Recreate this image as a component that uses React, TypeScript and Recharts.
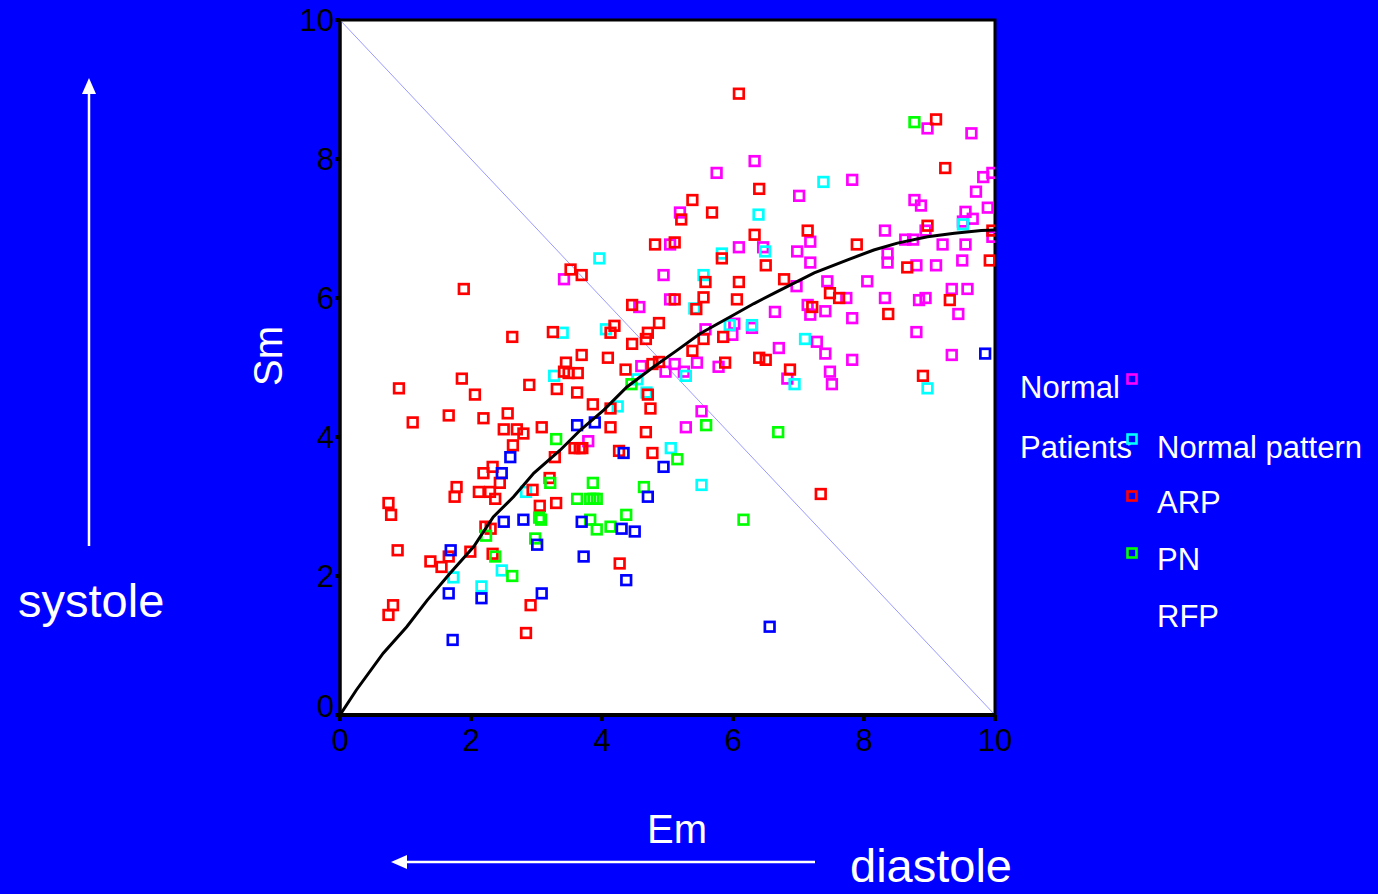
import React from "react";
import {
  ScatterChart,
  Scatter,
  XAxis,
  YAxis,
  ReferenceArea,
  ReferenceLine,
} from "recharts";

// [Em, Sm] pairs
const normal = [
  [3.42, 6.27], [5.75, 7.8], [6.33, 7.97], [5.19, 7.23], [5.04, 6.77], [6.09, 6.73],
  [6.46, 6.73], [4.94, 6.33], [5.04, 5.98], [4.57, 5.87], [6.64, 5.8], [5.58, 5.55],
  [6.02, 5.63], [6.29, 5.57], [5.99, 5.47], [6.7, 5.28], [4.6, 5.02], [5.11, 5.05],
  [4.97, 4.94], [5.25, 4.94], [5.45, 5.07], [5.78, 5.01], [8.97, 8.44], [9.64, 8.37],
  [9.96, 7.8], [9.82, 7.74], [7.82, 7.7], [9.71, 7.53], [7.01, 7.47], [8.77, 7.41],
  [8.87, 7.33], [9.89, 7.3], [9.55, 7.24], [9.66, 7.14], [9.51, 7.1], [8.94, 6.97],
  [8.32, 6.97], [9.96, 6.88], [8.63, 6.84], [8.75, 6.84], [7.18, 6.81], [9.2, 6.77],
  [9.55, 6.77], [6.98, 6.67], [8.36, 6.64], [7.18, 6.51], [8.36, 6.51], [8.8, 6.47],
  [9.1, 6.47], [9.5, 6.54], [6.97, 6.17], [7.44, 6.24], [8.05, 6.24], [9.34, 6.13],
  [9.58, 6.13], [7.73, 6.0], [8.32, 6.0], [8.84, 5.97], [8.94, 6.0], [7.14, 5.9],
  [7.18, 5.76], [7.41, 5.81], [7.82, 5.71], [9.44, 5.77], [8.8, 5.51], [7.28, 5.37],
  [7.41, 5.2], [7.82, 5.11], [9.34, 5.18], [6.83, 4.84], [7.48, 4.94], [7.51, 4.76],
  [5.52, 4.37], [5.28, 4.14], [3.79, 3.94],
];

const normalPattern = [
  [6.39, 7.2], [5.83, 6.64], [6.49, 6.67], [3.96, 6.57], [5.55, 6.33], [5.41, 5.85],
  [4.06, 5.55], [5.95, 5.61], [6.29, 5.61], [3.4, 5.5], [3.27, 4.88], [5.28, 4.88],
  [4.54, 4.83], [4.68, 4.64], [4.24, 4.44], [5.05, 3.84], [5.52, 3.31], [7.38, 7.67],
  [9.51, 7.06], [7.1, 5.41], [6.94, 4.76], [8.97, 4.7], [2.84, 3.21], [2.47, 2.08],
  [1.73, 1.98], [2.16, 1.85],
];

const arp = [
  [6.09, 8.94], [6.4, 7.57], [5.38, 7.41], [5.21, 7.13], [5.68, 7.23], [6.33, 6.91],
  [4.81, 6.77], [5.11, 6.8], [5.83, 6.57], [6.5, 6.47], [3.52, 6.41], [3.69, 6.33],
  [5.58, 6.23], [6.09, 6.23], [5.11, 5.98], [5.55, 6.01], [6.06, 5.98], [4.46, 5.9],
  [5.44, 5.84], [4.87, 5.64], [4.19, 5.6], [4.13, 5.5], [4.7, 5.5], [4.67, 5.41],
  [5.55, 5.41], [5.85, 5.44], [4.46, 5.34], [3.69, 5.18], [4.09, 5.14], [3.45, 5.07],
  [5.38, 5.24], [6.4, 5.14], [6.5, 5.11], [4.36, 4.97], [4.77, 5.05], [4.87, 5.08],
  [5.88, 5.07], [3.63, 4.92], [3.49, 4.92], [3.42, 4.94], [1.89, 6.13], [2.63, 5.44],
  [3.25, 5.51], [1.86, 4.84], [0.9, 4.7], [2.89, 4.75], [9.1, 8.57], [9.24, 7.87],
  [8.97, 7.04], [7.14, 6.97], [9.96, 6.97], [7.89, 6.77], [9.92, 6.54], [8.66, 6.44],
  [6.78, 6.27], [7.48, 6.07], [7.62, 6.0], [9.31, 5.97], [7.21, 5.87], [8.37, 5.77],
  [6.87, 4.97], [8.9, 4.88], [2.06, 4.61], [3.31, 4.69], [1.11, 4.21], [1.66, 4.31],
  [2.19, 4.27], [2.56, 4.34], [2.5, 4.11], [2.7, 4.11], [2.8, 4.05], [3.08, 4.14],
  [2.64, 3.88], [3.28, 3.71], [2.33, 3.57], [2.19, 3.48], [2.44, 3.34], [3.2, 3.41],
  [1.78, 3.28], [1.75, 3.14], [2.12, 3.21], [2.29, 3.21], [2.37, 3.11], [2.94, 3.24],
  [3.05, 3.01], [3.3, 3.05], [0.74, 3.05], [0.78, 2.88], [2.22, 2.71], [2.3, 2.68],
  [0.88, 2.37], [1.66, 2.28], [1.99, 2.35], [1.38, 2.21], [1.55, 2.13], [2.33, 2.32],
  [2.91, 1.58], [0.81, 1.58], [0.74, 1.44], [2.84, 1.18], [3.62, 4.64], [3.86, 4.47],
  [4.13, 4.41], [4.7, 4.61], [4.74, 4.41], [4.13, 4.14], [4.67, 4.07], [3.58, 3.84],
  [3.66, 3.84], [3.7, 3.84], [4.26, 3.8], [4.77, 3.77], [4.27, 2.18], [7.34, 3.18],
];

const pn = [
  [8.77, 8.53], [4.45, 4.76], [3.3, 3.97], [3.21, 3.34], [3.04, 2.84], [3.07, 2.81],
  [2.23, 2.58], [2.98, 2.54], [2.37, 2.28], [2.63, 2.0], [5.59, 4.17], [6.69, 4.07],
  [5.15, 3.68], [3.86, 3.34], [4.64, 3.28], [3.62, 3.11], [3.82, 3.11], [3.87, 3.11],
  [3.92, 3.11], [3.82, 2.81], [3.92, 2.67], [4.13, 2.71], [4.37, 2.88], [6.16, 2.81],
];

const rfp = [
  [9.85, 5.2], [2.6, 3.71], [2.47, 3.48], [2.5, 2.78], [2.8, 2.81], [3.01, 2.45],
  [1.69, 2.37], [1.66, 1.75], [2.16, 1.68], [3.08, 1.75], [1.72, 1.08], [3.62, 4.17],
  [3.89, 4.21], [4.33, 3.77], [4.94, 3.57], [4.7, 3.14], [3.69, 2.78], [4.3, 2.68],
  [4.5, 2.64], [3.72, 2.28], [4.37, 1.94], [6.56, 1.27],
];

// smoothed fit curve
const fitCurve = [
  [0, 0], [0.25, 0.36], [0.66, 0.89], [1.02, 1.27], [1.33, 1.65], [1.68, 2.04],
  [2.04, 2.42], [2.34, 2.85], [2.65, 3.14], [2.96, 3.48], [3.36, 3.81], [3.67, 4.1],
  [4.03, 4.39], [4.38, 4.72], [4.79, 5.01], [5.15, 5.25], [5.5, 5.49], [5.96, 5.73],
  [6.32, 5.92], [6.63, 6.07], [7.24, 6.36], [7.75, 6.55], [8.15, 6.69], [8.51, 6.79],
  [8.97, 6.88], [9.38, 6.93], [9.79, 6.97], [10, 6.98],
];

const ticks = [0, 2, 4, 6, 8, 10];

const BG = "#0000ff";
const FONT = "'Liberation Sans', Arial, sans-serif";

const toPts = (arr: number[][]) => arr.map(([x, y]) => ({ x, y }));

const square = (color: string) => (props: any) => {
  const { cx, cy } = props;
  if (cx == null || cy == null) return <g />;
  return (
    <rect
      x={cx - 4.8}
      y={cy - 4.8}
      width={9.6}
      height={9.6}
      fill="none"
      stroke={color}
      strokeWidth={2.7}
    />
  );
};

const YTick = (props: any) => {
  const { x, y, payload } = props;
  const shift = payload.value === 0 ? -9 : 0;
  return (
    <text
      x={x}
      y={y + shift}
      dy="0.36em"
      textAnchor="end"
      fontSize={31}
      fontFamily={FONT}
      fill="#000"
    >
      {payload.value}
    </text>
  );
};

const legendRows = [
  { label: "Normal pattern", color: "#00ffff", y: 439, ty: 458 },
  { label: "ARP", color: "#ff0000", y: 496, ty: 513 },
  { label: "PN", color: "#00ff00", y: 553, ty: 570 },
  { label: "RFP", color: "#0000ff", y: 610, ty: 627 },
];

export default function App() {
  return (
    <div
      style={{
        position: "absolute",
        left: 0,
        top: 0,
        width: 1378,
        height: 894,
        background: BG,
        overflow: "hidden",
        fontFamily: FONT,
      }}
    >
      <div style={{ position: "absolute", left: 0, top: 0 }}>
        <ScatterChart
          width={1378}
          height={894}
          margin={{ top: 20, right: 383, bottom: 139, left: 280 }}
        >
          <XAxis
            type="number"
            dataKey="x"
            domain={[0, 10]}
            ticks={ticks}
            allowDataOverflow
            axisLine={{ stroke: "#000", strokeWidth: 4 }}
            tickLine={{ stroke: "#000", strokeWidth: 4 }}
            tickSize={6}
            tickMargin={8}
            height={40}
            tick={{ fontSize: 31, fill: "#000", fontFamily: FONT }}
          />
          <YAxis
            type="number"
            dataKey="y"
            domain={[0, 10]}
            ticks={ticks}
            allowDataOverflow
            width={60}
            axisLine={{ stroke: "#000", strokeWidth: 3 }}
            tickLine={{ stroke: "#000", strokeWidth: 4 }}
            tickSize={5}
            tickMargin={1}
            tick={<YTick />}
          />
          <ReferenceArea
            x1={0}
            x2={10}
            y1={0}
            y2={10}
            fill="#ffffff"
            fillOpacity={1}
            stroke="#000"
            strokeWidth={3}
          />
          <ReferenceLine
            segment={[
              { x: 0, y: 10 },
              { x: 10, y: 0 },
            ]}
            stroke="#9a9aff"
            strokeWidth={1}
          />
          <Scatter data={toPts(normal)} shape={square("#ff00ff")} isAnimationActive={false} />
          <Scatter data={toPts(normalPattern)} shape={square("#00ffff")} isAnimationActive={false} />
          <Scatter data={toPts(arp)} shape={square("#ff0000")} isAnimationActive={false} />
          <Scatter data={toPts(pn)} shape={square("#00ff00")} isAnimationActive={false} />
          <Scatter data={toPts(rfp)} shape={square("#0000ff")} isAnimationActive={false} />
          <Scatter
            data={toPts(fitCurve)}
            line={{ stroke: "#000", strokeWidth: 3 }}
            shape={() => <g />}
            isAnimationActive={false}
          />
        </ScatterChart>
      </div>

      <svg
        width={1378}
        height={894}
        style={{ position: "absolute", left: 0, top: 0, pointerEvents: "none" }}
      >
        {/* systole arrow */}
        <line x1={89} y1={546} x2={89} y2={90} stroke="#fff" strokeWidth={2.5} />
        <polygon points="89,78 82,94 96,94" fill="#fff" />
        <text x={18} y={617} fontSize={47} fill="#fff" fontFamily={FONT}>
          systole
        </text>

        {/* diastole arrow */}
        <line x1={815} y1={862} x2={403} y2={862} stroke="#fff" strokeWidth={2.5} />
        <polygon points="391,862 407,855 407,869" fill="#fff" />
        <text x={850} y={882} fontSize={47} fill="#fff" fontFamily={FONT}>
          diastole
        </text>

        {/* axis titles */}
        <text x={647} y={843} fontSize={40} fill="#fff" fontFamily={FONT}>
          Em
        </text>
        <text
          x={282}
          y={356}
          fontSize={40}
          fill="#fff"
          fontFamily={FONT}
          textAnchor="middle"
          transform="rotate(-90 282 356)"
        >
          Sm
        </text>

        {/* legend */}
        <text x={1020} y={398} fontSize={31} fill="#fff" fontFamily={FONT}>
          Normal
        </text>
        <rect x={1127.5} y={374.5} width={9} height={9} fill="none" stroke="#ff00ff" strokeWidth={2.6} />
        <text x={1020} y={458} fontSize={31} fill="#fff" fontFamily={FONT}>
          Patients
        </text>
        {legendRows.map((r) => (
          <g key={r.label}>
            <rect
              x={1127.5}
              y={r.y - 4.5}
              width={9}
              height={9}
              fill="none"
              stroke={r.color}
              strokeWidth={2.6}
            />
            <text x={1157} y={r.ty} fontSize={31} fill="#fff" fontFamily={FONT}>
              {r.label}
            </text>
          </g>
        ))}
      </svg>
    </div>
  );
}
